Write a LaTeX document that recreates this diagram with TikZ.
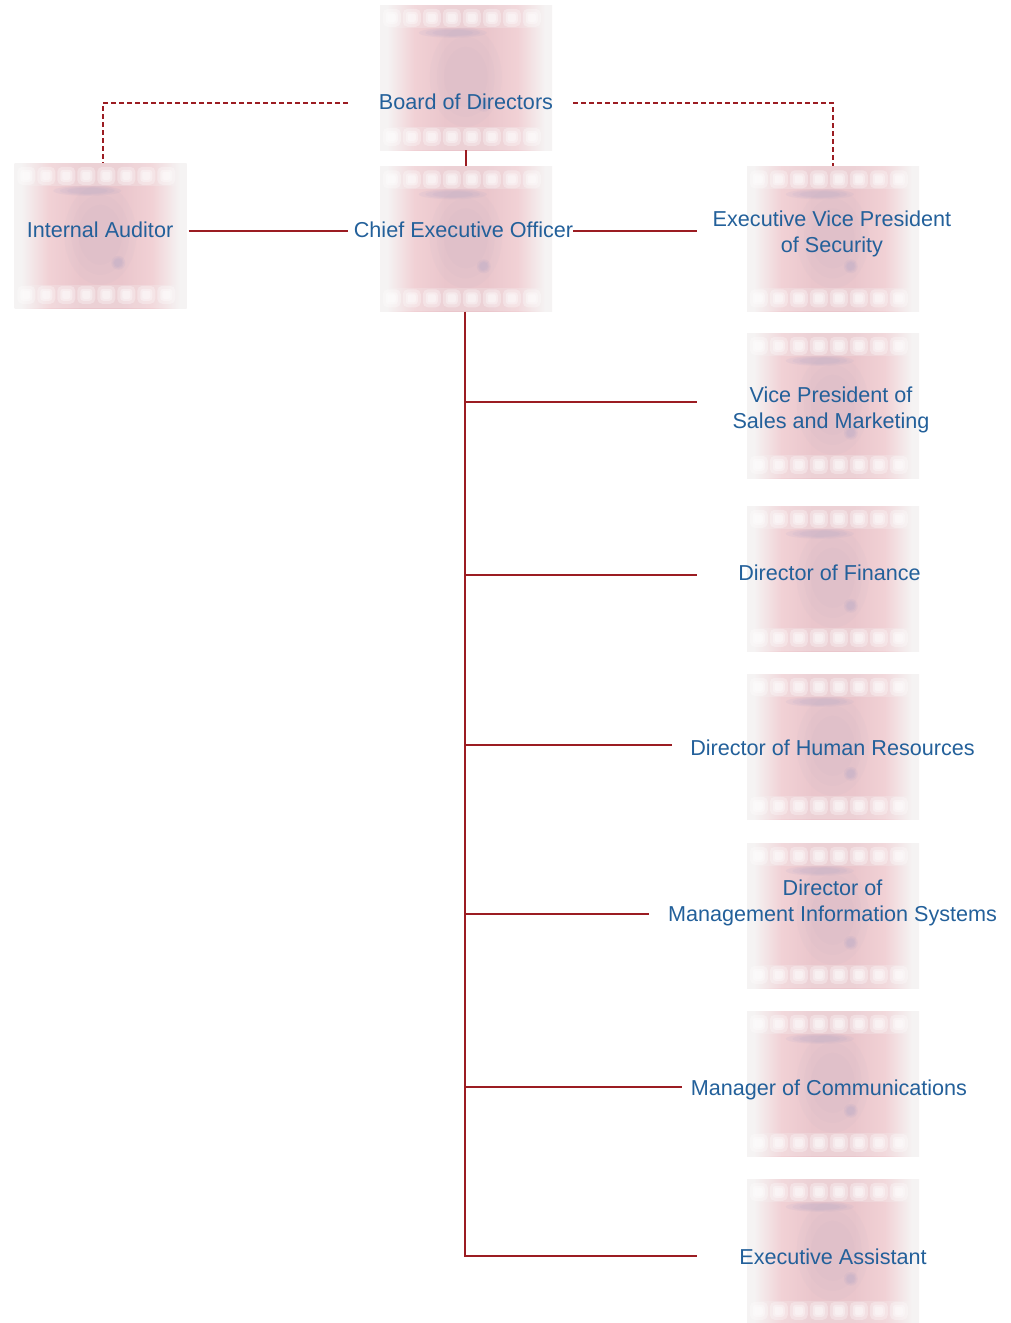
\documentclass[tikz,border=0pt]{standalone}
\usepackage{fontspec}
\setmainfont{Liberation Sans}
\usetikzlibrary{calc}
\definecolor{fe}{HTML}{F5F3F3}
\definecolor{fp1}{HTML}{F1D1D5}
\definecolor{fp2}{HTML}{EAC6CC}
\definecolor{txtblue}{HTML}{23609A}
\definecolor{linered}{HTML}{9B1C22}
\definecolor{smudge}{HTML}{9C9CC8}
\pgfdeclarehorizontalshading{filmh}{100bp}{color(0bp)=(fe); color(25bp)=(fe); color(27bp)=(fe); color(35bp)=(fp1); color(44bp)=(fp2); color(56bp)=(fp2); color(65bp)=(fp1); color(73bp)=(fe); color(75bp)=(fe); color(100bp)=(fe)}
\tikzset{
  film/.style={minimum width=172pt, minimum height=145pt, inner sep=0pt, shading=filmh},
  lbl/.style={text=txtblue, font=\fontsize{21.6}{25.5}\selectfont, inner sep=0pt, align=center, anchor=base},
  conn/.style={draw=linered, line width=2pt},
  dconn/.style={draw=linered, line width=2.2pt, dash pattern=on 5pt off 3pt},
}
\begin{document}
\begin{tikzpicture}[x=1pt, y=-1pt]
\useasboundingbox (0,0) rectangle (1010,1323);
% boxes
\node[film] (bod) at (466,77.5) {};
\node[film] (ia) at (100.5,235.5) {};
\node[film] (ceo) at (466,239) {};
\node[film] (evp) at (833,239) {};
\node[film] (vps) at (833,405.5) {};
\node[film] (fin) at (833,578.5) {};
\node[film] (hr) at (833,746.5) {};
\node[film] (mis) at (833,915.5) {};
\node[film] (com) at (833,1083.5) {};
\node[film] (ea) at (833,1251.5) {};
% film strip details
\foreach \n in {bod,ia,ceo,evp,vps,fin,hr,mis,com,ea}{
  \begin{scope}[shift={(\n.north west)}]
    \foreach \r in {1,0.8,0.6}{
      \fill[smudge, opacity=.04] (86,72) ellipse ({36*\r} and {50*\r});
      \fill[smudge, opacity=.09] (73,28) ellipse ({34*\r} and {5*\r});
      \fill[smudge, opacity=.10] (104,100) circle ({7*\r});
    }
    \fill[fe, opacity=.25] (0,0) rectangle (172,23);
    \fill[fe, opacity=.25] (0,122) rectangle (172,145);
    \foreach \i in {0,...,7}{
      \fill[white, opacity=.30, rounded corners=5pt] (3+20*\i,4) rectangle ++(18,18);
      \fill[white, opacity=.35, rounded corners=3pt] (6+20*\i,7) rectangle ++(12,12);
      \fill[white, opacity=.35, rounded corners=2pt] (8+20*\i,9) rectangle ++(8,8);
      \fill[white, opacity=.30, rounded corners=5pt] (3+20*\i,123) rectangle ++(18,18);
      \fill[white, opacity=.35, rounded corners=3pt] (6+20*\i,126) rectangle ++(12,12);
      \fill[white, opacity=.35, rounded corners=2pt] (8+20*\i,128) rectangle ++(8,8);
    }
  \end{scope}
}
% free line ends
\coordinate (bl) at (348,103);
\coordinate (br) at (573,103);
\coordinate (cl) at (348,231);
\coordinate (cr) at (573,231);
\coordinate (e1) at (697,231);
\coordinate (e2) at (697,402);
\coordinate (e3) at (697,575);
\coordinate (e4) at (672,745);
\coordinate (e5) at (649,914);
\coordinate (e6) at (682,1087);
\coordinate (e7) at (697,1256);
% connectors
\draw[dconn] (bl) -| ([xshift=2.5pt]ia.north);
\draw[dconn] (br) -| (evp.north);
\draw[conn] (bod.south) -- (ceo.north);
\draw[conn] ([xshift=2pt]ia.east |- cl) -- (cl);
\draw[conn] (cr) -- (e1);
\draw[conn] ([xshift=-1pt]ceo.south) |- (e7);
\foreach \e in {e2,e3,e4,e5,e6}{
  \draw[conn] ([xshift=-1pt]ceo.south |- \e) -- (\e);
}
% labels
\node[lbl] (tbod) at (466,109) {Board of Directors};
\node[lbl] (tia) at (100,237) {Internal Auditor};
\node[lbl] (tceo) at (463.5,237) {Chief Executive Officer};
\node[lbl] (tevp) at (832,252) {Executive Vice President\\of Security};
\node[lbl] (tvps) at (831,428) {Vice President of\\Sales and Marketing};
\node[lbl] (tfin) at (829.5,580) {Director of Finance};
\node[lbl] (thr) at (832.5,755) {Director of Human Resources};
\node[lbl] (tmis) at (832.5,921) {Director of\\Management Information Systems};
\node[lbl] (tcom) at (829,1095) {Manager of Communications};
\node[lbl] (tea) at (833,1264) {Executive Assistant};
\end{tikzpicture}
\end{document}
